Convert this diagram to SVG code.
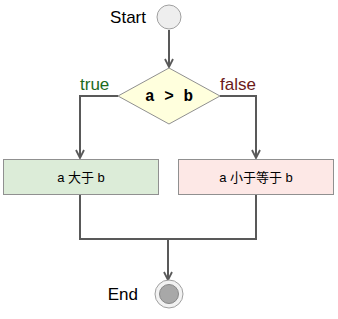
<svg xmlns="http://www.w3.org/2000/svg" width="338" height="319" viewBox="0 0 338 319">
<defs>
<style>
.edge{fill:none;stroke:#595959;stroke-width:2}
.lbl{font-family:"Liberation Sans",Arial,sans-serif;font-size:17px}
.box{font-family:"Liberation Sans","Noto Sans CJK SC",sans-serif;font-size:13px;fill:#000}
</style>
<marker id="arr" viewBox="0 0 10 10" refX="9" refY="5" markerWidth="10" markerHeight="10" markerUnits="userSpaceOnUse" orient="auto">
<path d="M1,1 L9,5 L1,9" fill="none" stroke="#595959" stroke-width="1.8"/>
</marker>
</defs>
<rect width="338" height="319" fill="#fff"/>
<g id="connectors">
<path class="edge" d="M169,30 V67" marker-end="url(#arr)"/>
<path class="edge" d="M118,96 H80 V158" marker-end="url(#arr)"/>
<path class="edge" d="M220,96 H256 V158" marker-end="url(#arr)"/>
<path class="edge" d="M80,195 V239 H256 V195"/>
<path class="edge" d="M168,239 V280" marker-end="url(#arr)"/>
</g>
<g id="start">
<circle cx="169" cy="17" r="12" fill="#eeeeee" stroke="#a0a0a0" stroke-width="1"/>
<text class="lbl" x="146" y="23" text-anchor="end">Start</text>
</g>
<g id="decision">
<polygon points="169,68 220,96 169,124 118,96" fill="#ffffdd" stroke="#909090" stroke-width="1"/>
<text x="169" y="101" text-anchor="middle" font-family="'Liberation Mono','Courier New',monospace" font-size="16" font-weight="bold">a &gt; b</text>
<text class="lbl" x="80" y="90" fill="#1c6b1c">true</text>
<text class="lbl" x="220" y="90" fill="#6b1a1a">false</text>
</g>
<g id="yes">
<rect x="3.5" y="159.5" width="155" height="35" fill="#dcecd8" stroke="#909090" stroke-width="1"/>
<text class="box" x="81" y="181.5" text-anchor="middle">a 大于 b</text>
</g>
<g id="no">
<rect x="178.5" y="159.5" width="155" height="35" fill="#fde8e6" stroke="#909090" stroke-width="1"/>
<text class="box" x="256" y="181.5" text-anchor="middle">a 小于等于 b</text>
</g>
<g id="end">
<circle cx="169" cy="294" r="14" fill="#f2f2f2" stroke="#a0a0a0" stroke-width="1"/>
<circle cx="169" cy="294" r="9.5" fill="#a8a8a8" stroke="#888" stroke-width="1"/>
<text class="lbl" x="138" y="300" text-anchor="end">End</text>
</g>
</svg>
